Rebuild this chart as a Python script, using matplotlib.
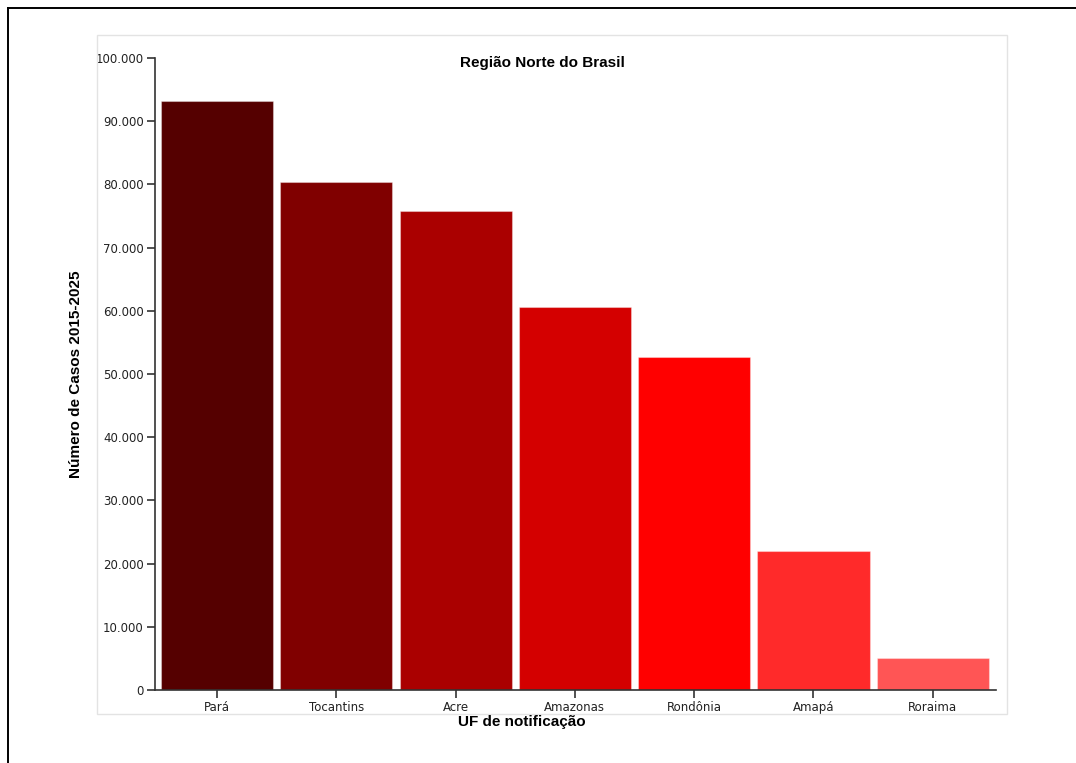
import matplotlib
matplotlib.use("Agg")
import matplotlib.pyplot as plt
from matplotlib.lines import Line2D
from matplotlib.patches import Rectangle
from matplotlib.ticker import FuncFormatter

estados = ["Pará", "Tocantins", "Acre", "Amazonas", "Rondônia", "Amapá", "Roraima"]
casos = [93200, 80450, 75850, 60650, 52750, 22000, 5100]
cores = ["#550000", "#800000", "#aa0000", "#d40000", "#ff0000", "#ff2a2a", "#ff5555"]
yticks = list(range(0, 100001, 10000))

plt.rcParams["font.family"] = ["DejaVu Sans"]

W, H = 1076, 763
fig = plt.figure(figsize=(W / 100, H / 100), dpi=100)

def px(x0, y0, x1, y1):
    # pixel box -> figure fraction [left, bottom, width, height]
    return [x0 / W, 1 - y1 / H, (x1 - x0) / W, (y1 - y0) / H]

# outer black frame (runs off right and bottom)
fig.add_artist(Line2D([8 / W, 1.0], [1 - 8 / H, 1 - 8 / H], transform=fig.transFigure,
                      color="black", lw=1.4))
fig.add_artist(Line2D([8 / W, 8 / W], [1 - 8 / H, 0.0], transform=fig.transFigure,
                      color="black", lw=1.4))

# light gray box around chart
fig.add_artist(Rectangle((97 / W, 1 - 714 / H), 910 / W, 679 / H, transform=fig.transFigure,
                         fill=False, edgecolor="#e3e3e3", lw=1))

ax = fig.add_axes(px(155, 58, 996, 690))
x = range(len(estados))
ax.bar(x, casos, width=0.94, color=cores, edgecolor=(1, 1, 1, 0.35), linewidth=0.8)

ax.set_xlim(-0.52, len(estados) - 0.47)
ax.set_ylim(0, 100000)
ax.set_yticks(yticks)
ax.yaxis.set_major_formatter(FuncFormatter(lambda v, p: f"{int(v):,}".replace(",", ".")))
ax.set_xticks(list(x))
ax.set_xticklabels(estados)

for s in ["top", "right"]:
    ax.spines[s].set_visible(False)
for s in ["left", "bottom"]:
    ax.spines[s].set_color("#333333")
    ax.spines[s].set_linewidth(1.2)
ax.tick_params(axis="both", length=6, width=1.2, color="#333333", labelsize=8.5,
               labelcolor="#222222", pad=2)

fig.text(542 / W, 1 - 63 / H, "Região Norte do Brasil", ha="center", va="center",
         fontsize=11, fontweight="bold", family="Liberation Sans")
fig.text(76 / W, 1 - 374 / H, "Número de Casos 2015-2025", ha="center", va="center",
         rotation=90, fontsize=11, fontweight="bold", family="Liberation Sans")
fig.text(522 / W, 1 - 722 / H, "UF de notificação", ha="center", va="center",
         fontsize=11, fontweight="bold", family="Liberation Sans")

fig.savefig("out.png", dpi=100, facecolor="white")
